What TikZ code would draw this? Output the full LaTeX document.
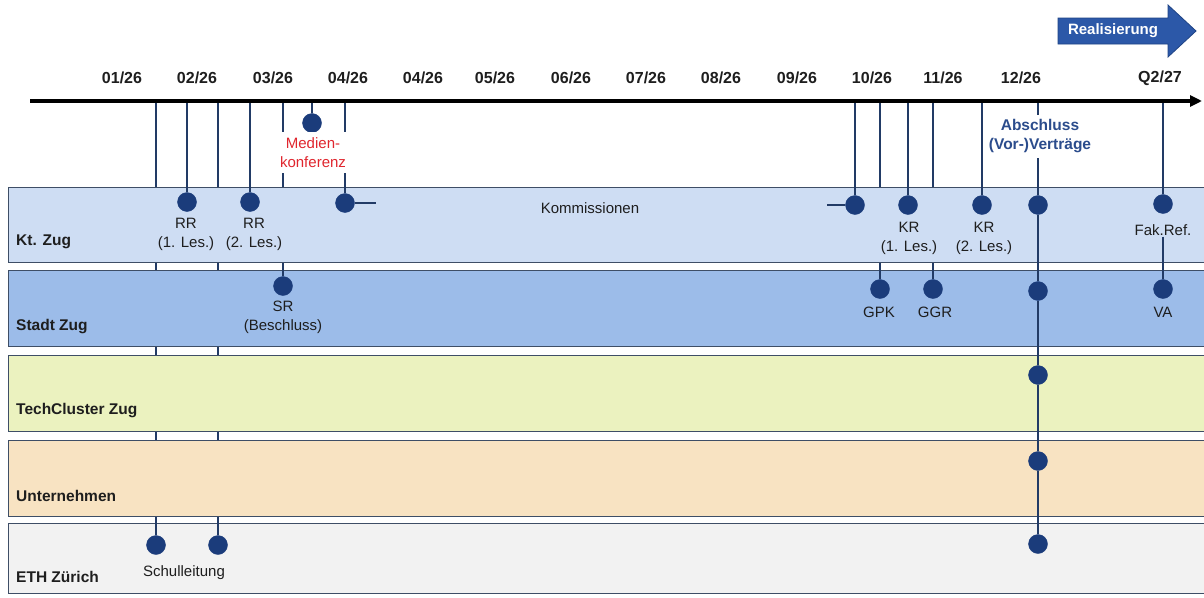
\documentclass[tikz,border=0pt]{standalone}
\usepackage{fontspec}
\setmainfont{Liberation Sans}
\usetikzlibrary{arrows.meta}

\definecolor{ktfill}{HTML}{CEDDF3}
\definecolor{stadtfill}{HTML}{9CBCE9}
\definecolor{techfill}{HTML}{EBF2BF}
\definecolor{untfill}{HTML}{F8E3C2}
\definecolor{ethfill}{HTML}{F2F2F2}
\definecolor{laneedge}{HTML}{3E4E66}
\definecolor{dotblue}{HTML}{1B3C7B}
\definecolor{linecol}{HTML}{223B66}
\definecolor{realfill}{HTML}{2C58A8}
\definecolor{realedge}{HTML}{1F4385}
\definecolor{abschl}{HTML}{2B4C8C}
\definecolor{medred}{HTML}{E0262E}
\definecolor{txt}{HTML}{1E1E1E}

\pgfdeclarelayer{bg}
\pgfdeclarelayer{back}
\pgfdeclarelayer{lanes}
\pgfsetlayers{bg,back,lanes,main}

\tikzset{
  month/.style={font=\fontsize{16}{19}\selectfont\bfseries, text=txt, inner sep=0pt},
  lanebox/.style={draw=laneedge, line width=1.4pt, anchor=north west, minimum width=1210pt, inner sep=0pt},
  lanelabel/.style={font=\fontsize{15.5}{19}\selectfont\bfseries, text=txt, anchor=west, inner sep=0pt},
  dot/.style={circle, fill=dotblue, draw=dotblue, minimum size=19pt, inner sep=0pt},
  conn/.style={draw=linecol, line width=1.3pt},
  lbl/.style={font=\fontsize{15}{19}\selectfont, align=center, text=txt, inner sep=1pt},
}

\begin{document}
\begin{tikzpicture}[x=1pt, y=-1pt]
\useasboundingbox (0,0) rectangle (1204,597);
\begin{pgfonlayer}{bg}
\fill[white] (0,0) rectangle (1204,597);
\end{pgfonlayer}

% ---- phase arrow ----
\draw[fill=realfill, draw=realedge, line width=0.8pt]
  (1058,18) -- (1168,18) -- (1168,5) -- (1196,31) -- (1168,57) -- (1168,44) -- (1058,44) -- cycle;
\node[font=\fontsize{15}{18}\selectfont\bfseries, text=white] (real) at (1113,31) {Realisierung};

% ---- time axis ----
\coordinate (axL) at (30,101);
\coordinate (axR) at (1202,101);
\draw[line width=3.2pt, -{Triangle[length=12pt,width=11pt]}] (axL) -- (axR);

\node[month] (m01) at (122,78) {01/26};
\node[month] (m02) at (197,78) {02/26};
\node[month] (m03) at (273,78) {03/26};
\node[month] (m04) at (348,78) {04/26};
\node[month] (m04b) at (423,78) {04/26};
\node[month] (m05) at (495,78) {05/26};
\node[month] (m06) at (571,78) {06/26};
\node[month] (m07) at (646,78) {07/26};
\node[month] (m08) at (721,78) {08/26};
\node[month] (m09) at (797,78) {09/26};
\node[month] (m10) at (872,78) {10/26};
\node[month] (m11) at (943,78) {11/26};
\node[month] (m12) at (1021,78) {12/26};
\node[month] (mq2) at (1160,78) {Q2/27};

% ---- swim lanes ----
\begin{pgfonlayer}{lanes}
\node[lanebox, fill=ktfill, minimum height=75pt] (kt) at (8,187) {};
\node[lanebox, fill=stadtfill, minimum height=76pt] (stadt) at (8,270) {};
\node[lanebox, fill=techfill, minimum height=76pt] (tech) at (8,355) {};
\node[lanebox, fill=untfill, minimum height=76pt] (unt) at (8,440) {};
\node[lanebox, fill=ethfill, minimum height=70pt] (eth) at (8,523) {};
\end{pgfonlayer}

\node[lanelabel] (lkt) at (16,242) {Kt. Zug};
\node[lanelabel] (lstadt) at (16,327) {Stadt Zug};
\node[lanelabel] (ltech) at (16,411) {TechCluster Zug};
\node[lanelabel] (lunt) at (16,496) {Unternehmen};
\node[lanelabel] (leth) at (16,577) {ETH Zürich};

% ---- milestones ----
\node[dot] (med) at (312,123) {};
\node[dot] (rr1) at (187,202) {};
\node[dot] (rr2) at (250,202) {};
\node[dot] (kom1) at (345,203) {};
\node[dot] (sr) at (283,286) {};
\node[dot] (kom2) at (855,205) {};
\node[dot] (kr1) at (908,205) {};
\node[dot] (kr2) at (982,205) {};
\node[dot] (gpk) at (880,289) {};
\node[dot] (ggr) at (933,289) {};
\node[dot] (vk) at (1038,205) {};
\node[dot] (vs) at (1038,291) {};
\node[dot] (vt) at (1038,375) {};
\node[dot] (vu) at (1038,461) {};
\node[dot] (ve) at (1038,544) {};
\node[dot] (fak) at (1163,204) {};
\node[dot] (va) at (1163,289) {};
\node[dot] (sl1) at (156,545) {};
\node[dot] (sl2) at (218,545) {};

% ---- labels ----
\node[lbl, text=medred, fill=white, inner xsep=3pt, inner ysep=5pt] (medl) at (313,152.5) {Medien-\\konferenz};
\node[lbl, font=\fontsize{15.5}{19}\selectfont\bfseries, text=abschl, fill=white, inner xsep=2pt, inner ysep=5pt] (absl) at (1040,136.5) {Abschluss\\(Vor-)Verträge};
\node[lbl] (rr1l) at (186,234) {RR\\(1. Les.)};
\node[lbl] (rr2l) at (254,234) {RR\\(2. Les.)};
\node[lbl] (koml) at (590,208) {Kommissionen};
\node[lbl] (srl) at (283,317) {SR\\(Beschluss)};
\node[lbl] (kr1l) at (909,238.5) {KR\\(1. Les.)};
\node[lbl] (kr2l) at (984,238.5) {KR\\(2. Les.)};
\node[lbl] (gpkl) at (879,312) {GPK};
\node[lbl] (ggrl) at (935,312) {GGR};
\node[lbl] (fakl) at (1163,230) {Fak.Ref.};
\node[lbl] (val) at (1163,312) {VA};
\node[lbl] (sll) at (184,573) {Schulleitung};

% ---- connectors running behind the lanes ----
\begin{pgfonlayer}{back}
\foreach \n in {sl1,sl2,rr1,rr2,sr,med,kom1,kom2,gpk,kr1,ggr,kr2,vk,fak}
  \draw[conn] (\n |- axL) -- (\n);
\end{pgfonlayer}

% ---- connector ends entering their lane ----
\draw[conn] (rr1 |- kt.north) -- (rr1);
\draw[conn] (rr2 |- kt.north) -- (rr2);
\draw[conn] (kom1 |- kt.north) -- (kom1);
\draw[conn] (kom2 |- kt.north) -- (kom2);
\draw[conn] (kr1 |- kt.north) -- (kr1);
\draw[conn] (kr2 |- kt.north) -- (kr2);
\draw[conn] (fak |- kt.north) -- (fak);
\draw[conn] (sr |- stadt.north) -- (sr);
\draw[conn] (gpk |- stadt.north) -- (gpk);
\draw[conn] (ggr |- stadt.north) -- (ggr);
\draw[conn] (sl1 |- eth.north) -- (sl1);
\draw[conn] (sl2 |- eth.north) -- (sl2);

% ---- stubs for the committee phase ----
\coordinate (stubA) at (376,203);
\coordinate (stubB) at (827,205);
\draw[conn] (kom1) -- (stubA);
\draw[conn] (stubB) -- (kom2);

% ---- contract chain across all lanes ----
\draw[conn] (vk |- kt.north) -- (vk) -- (vs) -- (vt) -- (vu) -- (ve);
\draw[conn] (fakl.south) -- (va);
\end{tikzpicture}
\end{document}
